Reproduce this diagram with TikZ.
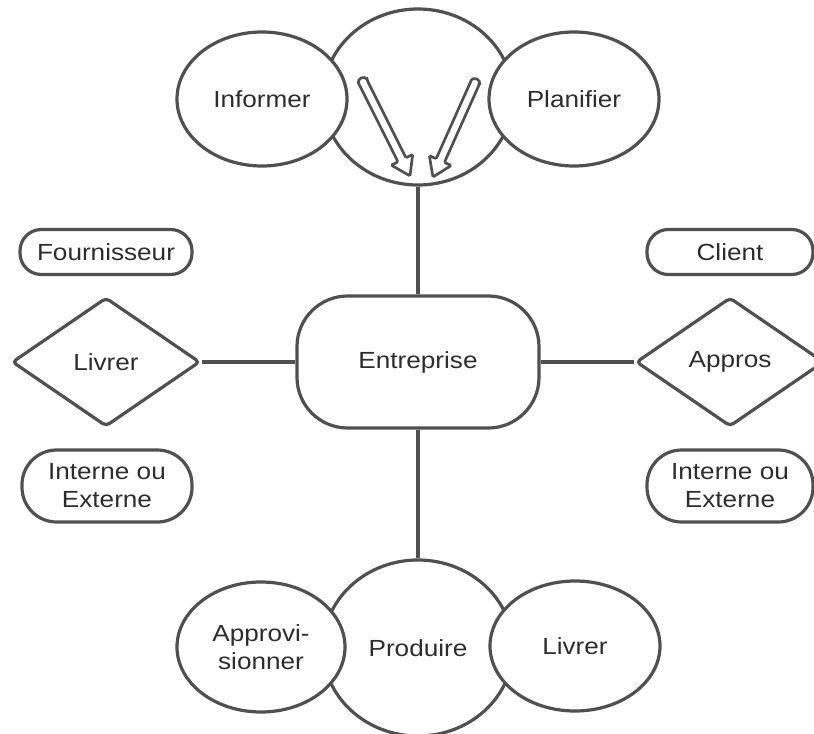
\documentclass[tikz,border=0pt]{standalone}
\usepackage{fontspec}
\setmainfont{Liberation Sans}[FakeStretch=1.12]
\usetikzlibrary{shapes.geometric}
\definecolor{linegray}{RGB}{80,80,80}
\definecolor{textgray}{RGB}{45,45,45}

\begin{document}
\begin{tikzpicture}[x=0.75pt,y=0.75pt,yscale=-1,xscale=1,
  every node/.style={font=\fontsize{17.5}{21}\selectfont, text=textgray, align=center},
  bubble/.style={ellipse, draw=linegray, line width=2.4pt, fill=white, inner sep=0pt},
  pill/.style={rectangle, draw=linegray, line width=2.4pt, fill=white, inner sep=0pt},
  losange/.style={diamond, draw=linegray, line width=2.4pt, fill=white, inner sep=0pt, rounded corners=3pt},
  link/.style={draw=linegray, line width=2.4pt}]
\clip (0,0) rectangle (814,734);

%Shape: Ellipse [top cluster]
\node[bubble, minimum width=142.5pt, minimum height=132pt] (piloter) at (418,97) {};
\node[bubble, minimum width=127.5pt, minimum height=100.5pt] (informer) at (262,99) {Informer};
\node[bubble, minimum width=127.5pt, minimum height=100.5pt] (planifier) at (574,99) {Planifier};

%Shape: Hollow arrows
\foreach \tx/\ty/\ang/\len in {363/82/63.4/105, 475/83/114.1/103}
  \draw[linegray, line width=2pt, rounded corners=1pt, shift={(\tx,\ty)}, rotate=\ang]
    (0,-4.5) -- (\len-18,-4.5) -- (\len-18,-12) -- (\len,0) -- (\len-18,12) -- (\len-18,4.5) -- (0,4.5)
    arc[start angle=90, end angle=270, radius=4.5] -- cycle;

%Shape: Centre
\node[pill, minimum width=181.5pt, minimum height=99pt, rounded corners=38pt] (entreprise) at (418,362) {Entreprise};

%Shape: Diamonds
\node[losange, minimum width=141pt, minimum height=96.75pt] (livrerF) at (106,362) {Livrer};
\node[losange, minimum width=141pt, minimum height=96.75pt] (appros) at (730,362) {Appros};

%Shape: Pills
\node[pill, minimum width=129pt, minimum height=33.75pt, rounded corners=16pt] (fournisseur) at (106,252) {Fournisseur};
\node[pill, minimum width=124.5pt, minimum height=33.75pt, rounded corners=16pt] (client) at (730,252) {Client};
\node[pill, minimum width=127.5pt, minimum height=54pt, rounded corners=26pt] (interneF) at (107,486) {Interne ou\\Externe};
\node[pill, minimum width=124.5pt, minimum height=54pt, rounded corners=26pt] (interneC) at (730,486) {Interne ou\\Externe};

%Shape: Ellipse [bottom cluster]
\node[bubble, minimum width=142.5pt, minimum height=132pt] (produire) at (418,648) {Produire};
\node[bubble, minimum width=126pt, minimum height=97.5pt] (approvisionner) at (261,647) {Approvi-\\sionner};
\node[bubble, minimum width=127.5pt, minimum height=97.5pt] (livrerC) at (575,646) {Livrer};

%Straight Lines
\draw[link] (piloter) -- (entreprise);
\draw[link] (entreprise) -- (produire);
\draw[link] (livrerF) -- (entreprise);
\draw[link] (entreprise) -- (appros);
\end{tikzpicture}
\end{document}
